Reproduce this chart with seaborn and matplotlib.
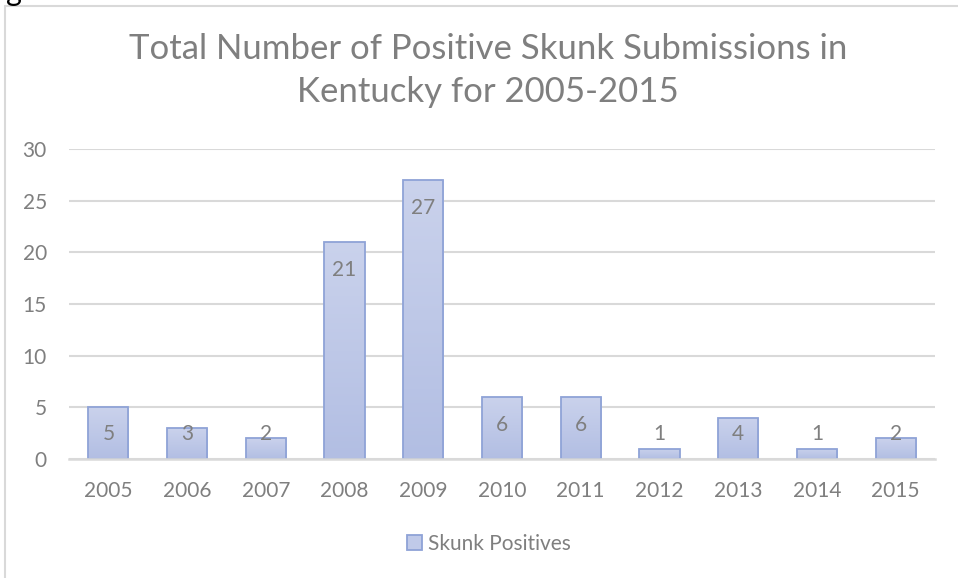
import numpy as np
import pandas as pd
import matplotlib
matplotlib.use("Agg")
import matplotlib.pyplot as plt
import seaborn as sns
from matplotlib.lines import Line2D
from matplotlib.patches import Patch
from matplotlib.colors import LinearSegmentedColormap

years = ["2005", "2006", "2007", "2008", "2009", "2010", "2011", "2012", "2013", "2014", "2015"]
positives = [5, 3, 2, 21, 27, 6, 6, 1, 4, 1, 2]
series_name = "Skunk Positives"
title_lines = ["Total Number of Positive Skunk Submissions in", "Kentucky for 2005-2015"]
yticks = [0, 5, 10, 15, 20, 25, 30]

sns.set_theme(style="white")
plt.rcParams["font.family"] = ["Lato", "DejaVu Sans"]

TXT = "#7f7f7f"
GRID = "#d9d9d9"
EDGE = "#8fa3d7"

df = pd.DataFrame({"year": years, "value": positives})

fig = plt.figure(figsize=(9.58, 5.78), dpi=100)
ax = fig.add_axes([69 / 958, 1 - 459 / 578, (935 - 69) / 958, (459 - 149) / 578])

sns.barplot(data=df, x="year", y="value", ax=ax, width=0.51, color="#bfc9e8",
            edgecolor=EDGE, linewidth=1.3, saturation=1)

# gradient fill clipped to each bar
cmap = LinearSegmentedColormap.from_list("g", ["#b2bee3", "#cad2ec"])
grad = np.linspace(0, 1, 256).reshape(-1, 1)
for p in ax.patches:
    x0, y0 = p.get_x(), p.get_y()
    w, h = p.get_width(), p.get_height()
    im = ax.imshow(grad, cmap=cmap, origin="lower", aspect="auto",
                   extent=[x0, x0 + w, y0, y0 + h], zorder=p.get_zorder() - 0.01)
    im.set_clip_path(p)
    p.set_facecolor("none")

ax.set_xlim(-0.5, len(years) - 0.5)
ax.set_ylim(0, 30)
ax.set_yticks(yticks)
ax.set_xlabel("")
ax.set_ylabel("")
ax.grid(axis="y", color=GRID, linewidth=1.5, zorder=0)
ax.set_axisbelow(True)
for s in ["top", "right", "left"]:
    ax.spines[s].set_visible(False)
ax.spines["bottom"].set_color(GRID)
ax.spines["bottom"].set_linewidth(1.8)
ax.tick_params(axis="both", length=0, labelsize=15, labelcolor=TXT)
ax.tick_params(axis="y", pad=16)
ax.tick_params(axis="x", pad=16)

# data labels (inside end)
for i, v in enumerate(positives):
    ax.text(i, max(v - 2.7, 2.42), str(v), ha="center", va="center",
            fontsize=15, color=TXT, zorder=5)

# title
fig.text(488 / 958, 1 - 59 / 578, title_lines[0], ha="center", va="baseline",
         fontsize=25, color=TXT)
fig.text(488 / 958, 1 - 102 / 578, title_lines[1], ha="center", va="baseline",
         fontsize=25, color=TXT)

# legend
handle = Patch(facecolor="#c0cae9", edgecolor=EDGE, linewidth=1.3)
fig.legend([handle], [series_name], loc="center", bbox_to_anchor=(489 / 958, 1 - 544 / 578),
           frameon=False, fontsize=15, labelcolor=TXT, handlelength=0.7, handleheight=0.7,
           handletextpad=0.3)

# chart border and cropped text
fig.add_artist(Line2D([5 / 958, 5 / 958], [0, 1 - 6 / 578], color=GRID, linewidth=1.5))
fig.add_artist(Line2D([5 / 958, 1], [1 - 6 / 578, 1 - 6 / 578], color=GRID, linewidth=1.5))
fig.text(6 / 958, 1 - 1 / 578, "g", ha="left", va="baseline", fontsize=22, color="black")

fig.savefig("out.png", dpi=100, facecolor="white")
